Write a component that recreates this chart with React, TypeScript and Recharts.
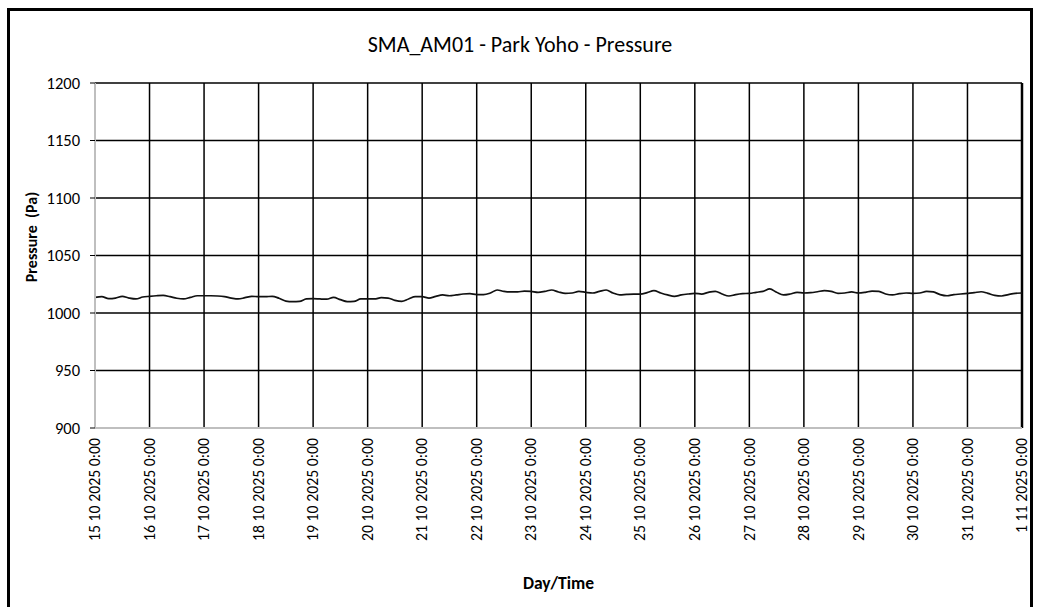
import { LineChart, Line, XAxis, YAxis, CartesianGrid, ReferenceLine } from 'recharts';

// 3-hourly readings, 15 Oct 2025 0:00 .. 1 Nov 2025 0:00
const pressure = [
  1013.6, 1014.2, 1012.5, 1013.0, 1014.5, 1013.0, 1012.2, 1013.9,
  1014.5, 1015.0, 1015.3, 1014.2, 1012.8, 1012.2, 1013.6, 1015.0,
  1015.0, 1015.0, 1014.8, 1014.2, 1013.0, 1012.2, 1013.3, 1014.5,
  1014.2, 1014.2, 1014.5, 1012.8, 1010.4, 1009.9, 1010.1, 1012.2,
  1012.5, 1012.2, 1012.0, 1013.6, 1011.6, 1009.9, 1010.1, 1012.2,
  1012.2, 1012.2, 1013.3, 1013.0, 1011.0, 1010.1, 1012.2, 1014.2,
  1014.2, 1013.0, 1014.5, 1015.7, 1015.0, 1015.7, 1016.5, 1016.8,
  1016.0, 1016.0, 1017.4, 1020.0, 1018.8, 1018.3, 1018.3, 1019.1,
  1018.8, 1018.0, 1018.8, 1020.0, 1018.3, 1017.1, 1017.4, 1018.8,
  1018.0, 1017.4, 1018.8, 1020.0, 1017.4, 1015.7, 1016.2, 1016.5,
  1016.5, 1017.7, 1019.4, 1017.4, 1015.7, 1014.5, 1015.7, 1016.5,
  1017.1, 1016.5, 1018.0, 1018.8, 1016.5, 1014.8, 1016.0, 1016.8,
  1017.1, 1018.0, 1018.8, 1020.9, 1018.0, 1015.7, 1016.5, 1018.0,
  1017.4, 1017.7, 1018.5, 1019.4, 1018.8, 1017.1, 1017.4, 1018.3,
  1017.4, 1018.0, 1019.1, 1018.8, 1016.5, 1015.7, 1016.8, 1017.4,
  1017.1, 1017.4, 1018.8, 1018.3, 1016.0, 1015.0, 1016.0, 1016.5,
  1017.1, 1017.7, 1018.5, 1017.1, 1015.3, 1014.8, 1016.0, 1017.1,
  1017.4,
];

const dayLabels = [
  '15 10 2025 0:00', '16 10 2025 0:00', '17 10 2025 0:00', '18 10 2025 0:00',
  '19 10 2025 0:00', '20 10 2025 0:00', '21 10 2025 0:00', '22 10 2025 0:00',
  '23 10 2025 0:00', '24 10 2025 0:00', '25 10 2025 0:00', '26 10 2025 0:00',
  '27 10 2025 0:00', '28 10 2025 0:00', '29 10 2025 0:00', '30 10 2025 0:00',
  '31 10 2025 0:00', '1 11 2025 0:00',
];

const yTicks = [900, 950, 1000, 1050, 1100, 1150, 1200];

const STEP_HOURS = 3;
const data = pressure.map((p, i) => ({ t: i * STEP_HOURS, p }));
const xTicks = dayLabels.map((_, i) => i * 24);
const xMax = xTicks[xTicks.length - 1];

const FONT = 'Carlito, Calibri, Lato, sans-serif';

// rotated date label, reads bottom-to-top
function DateTick({ x, y, payload }: any) {
  const label = dayLabels[Math.round(payload.value / 24)];
  return (
    <text
      x={x}
      y={y}
      transform={`rotate(-90, ${x}, ${y})`}
      textAnchor="end"
      dy="0.33em"
      fontSize={15.8}
      fontFamily={FONT}
      fill="#000"
    >
      {label}
    </text>
  );
}

export default function App() {
  return (
    <div
      style={{
        position: 'absolute',
        left: 7,
        top: 8,
        width: 1020,
        height: 610,
        border: '3px solid #000',
        background: '#fff',
        fontFamily: FONT,
      }}
    >
      {/* title */}
      <div
        style={{
          position: 'absolute',
          left: 0,
          width: 1020,
          top: 22,
          lineHeight: '24px',
          fontSize: 22,
          textAlign: 'center',
          color: '#000',
        }}
      >
        SMA_AM01 - Park Yoho - Pressure
      </div>

      {/* y axis title */}
      <div
        style={{
          position: 'absolute',
          left: -48,
          top: 216,
          width: 140,
          lineHeight: '20px',
          fontSize: 16,
          fontWeight: 'bold',
          textAlign: 'center',
          transform: 'rotate(-90deg)',
          whiteSpace: 'pre',
        }}
      >
        {'Pressure  (Pa)'}
      </div>

      <LineChart
        width={1023}
        height={600}
        data={data}
        margin={{ top: 72, right: 11, left: 0, bottom: 0 }}
      >
        <CartesianGrid stroke="#000" strokeWidth={1.5} />
        <XAxis
          dataKey="t"
          type="number"
          domain={[0, xMax]}
          ticks={xTicks}
          interval={0}
          height={183}
          tickLine={false}
          tickSize={0}
          tickMargin={10}
          axisLine={{ stroke: '#bfbfbf', strokeWidth: 2 }}
          tick={<DateTick />}
          label={{
            value: 'Day/Time',
            position: 'insideBottom',
            offset: 22,
            style: { fontFamily: FONT, fontSize: 17.5, fontWeight: 'bold', fill: '#000' },
          }}
        />
        <YAxis
          domain={[900, 1200]}
          ticks={yTicks}
          interval={0}
          width={85}
          tickSize={5}
          tickMargin={10}
          tickLine={{ stroke: '#000' }}
          axisLine={{ stroke: '#bfbfbf', strokeWidth: 2 }}
          tick={{ fontSize: 16.5, fontFamily: FONT, fill: '#000' }}
        />
        <ReferenceLine x={xMax} stroke="#000" strokeWidth={2.5} />
        <Line
          type="monotone"
          dataKey="p"
          stroke="#111"
          strokeWidth={1.7}
          dot={false}
          isAnimationActive={false}
        />
      </LineChart>
    </div>
  );
}
